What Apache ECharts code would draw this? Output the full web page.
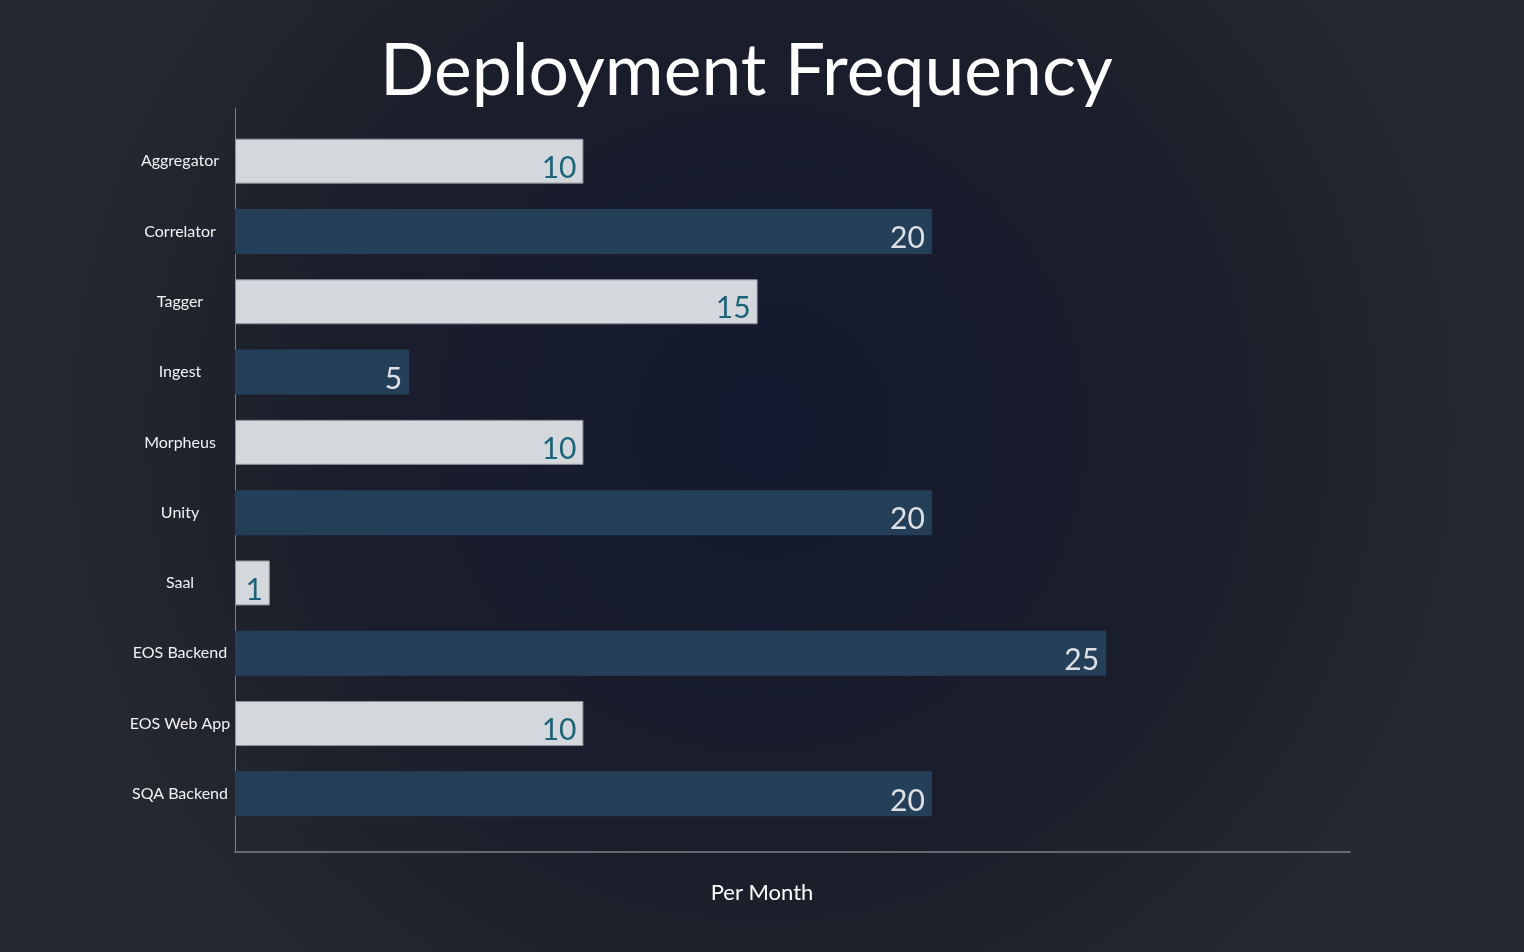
<!DOCTYPE html>
<html>
<head>
<meta charset="utf-8">
<script src="https://cdn.jsdelivr.net/npm/echarts@6/dist/echarts.min.js"></script>
<style>
html,body{margin:0;padding:0;background:#1b1e28;}
#chart{width:1524px;height:952px;}
</style>
</head>
<body>
<div id="chart"></div>
<script>
const categories = ['Aggregator','Correlator','Tagger','Ingest','Morpheus','Unity','Saal','EOS Backend','EOS Web App','SQA Backend'];
const values = [10, 20, 15, 5, 10, 20, 1, 25, 10, 20];
const titleText = 'Deployment Frequency';
const axisName = 'Per Month';

const FONT = 'Lato, "Noto Sans", sans-serif';
const lightStyle = {bar:'#d4d7dc', border:'#8c9099', label:'#1e6478'};
const darkStyle = {bar:'#263f58', border:'#263f58', label:'#dde1e7'};

const chart = echarts.init(document.getElementById('chart'), null, {renderer:'canvas'});
chart.setOption({
  backgroundColor: {
    type:'radial', x:0.5, y:0.45, r:0.75,
    colorStops:[{offset:0,color:'#141a30'},{offset:0.6,color:'#1a1e2b'},{offset:1,color:'#25282f'}]
  },
  textStyle:{fontFamily:FONT},
  title:[
    {text:titleText, left:375, top:31,
     textStyle:{color:'#ffffff', fontSize:71.5, fontWeight:'normal', fontFamily:FONT}},
    {text:axisName, left:'center', top:877,
     textStyle:{color:'#ffffff', fontSize:22, fontWeight:'normal', fontFamily:FONT}}
  ],
  grid:[
    {left:235, width:1115, top:126, height:703},
    {left:235, width:1115, top:108, height:744}
  ],
  xAxis:[
    {gridIndex:0, type:'value', min:0, max:32, show:false},
    {gridIndex:1, type:'value', min:0, max:32,
     axisLine:{show:true, lineStyle:{color:'#7c7f86', width:1.5}},
     axisTick:{show:false}, axisLabel:{show:false}, splitLine:{show:false}}
  ],
  yAxis:[
    {gridIndex:0, type:'category', data:categories, inverse:true,
     axisLine:{show:false}, axisTick:{show:false}, splitLine:{show:false},
     axisLabel:{color:'#f2f2f2', fontSize:16, align:'center', margin:55, fontFamily:FONT}},
    {gridIndex:1, type:'value', min:0, max:1,
     axisLine:{show:true, lineStyle:{color:'#7c7f86', width:1}},
     axisTick:{show:false}, axisLabel:{show:false}, splitLine:{show:false}}
  ],
  series:[{
    type:'bar', xAxisIndex:0, yAxisIndex:0, barWidth:45,
    data: values.map((v,i)=>{
      const s = i%2===0 ? lightStyle : darkStyle;
      return {value:v,
        itemStyle:{color:s.bar, borderColor:s.border, borderWidth:i%2===0?1:0},
        label:{color:s.label}};
    }),
    label:{show:true, position:'insideRight', distance:7, fontSize:30, fontFamily:FONT, offset:[0,7]}
  }],
  animation:false
});
</script>
</body>
</html>
